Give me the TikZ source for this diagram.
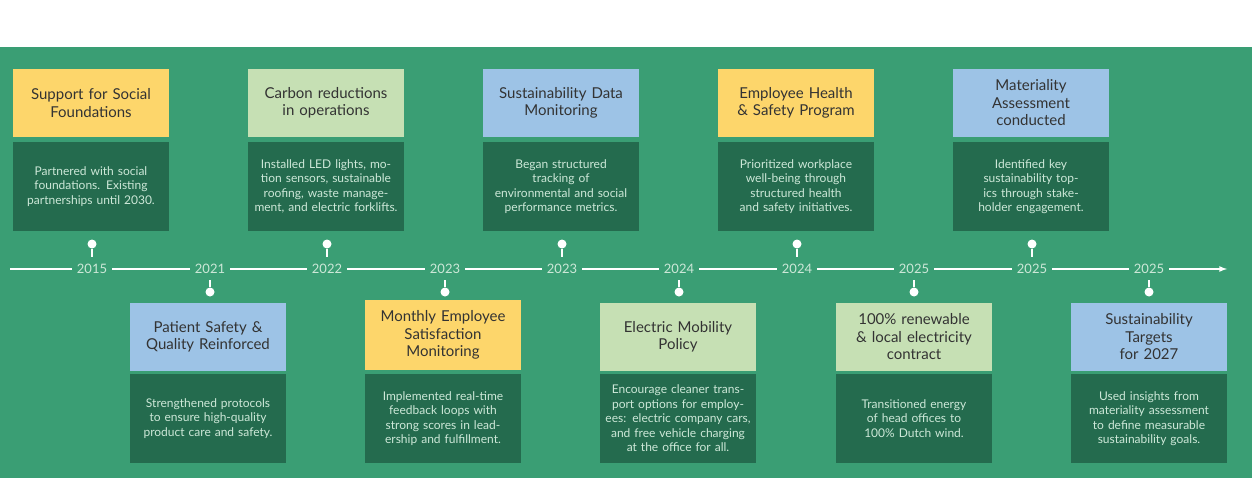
\documentclass[tikz,border=0pt]{standalone}
\usepackage{fontspec}
\setmainfont{Lato}
\usetikzlibrary{positioning}
\definecolor{bandgreen}{HTML}{3A9E74}
\definecolor{darkgreen}{HTML}{246B4E}
\definecolor{hyellow}{HTML}{FDD66B}
\definecolor{hlgreen}{HTML}{C6E0B4}
\definecolor{hblue}{HTML}{9DC3E6}
\definecolor{yeartext}{HTML}{CDE8D8}
\tikzset{
  head/.style={minimum width=156pt, minimum height=68pt, text width=146pt, align=center,
    inner sep=0pt, text=black!80, font=\fontsize{15}{17.5}\selectfont},
  body/.style={fill=darkgreen, minimum width=156pt, minimum height=89pt, text width=146pt,
    align=center, inner sep=0pt, text=yeartext, font=\fontsize{12}{14.5}\selectfont},
  year/.style={fill=bandgreen, inner xsep=5pt, inner ysep=1pt, text=yeartext,
    font=\fontsize{13}{15}\selectfont},
  pin/.style={circle, fill=white, inner sep=0pt, minimum size=9pt}
}
\begin{document}
\begin{tikzpicture}[x=1pt,y=-1pt]
\useasboundingbox (0,0) rectangle (1252,482);
\fill[bandgreen] (0,47) rectangle (1252,478);
% timeline
\draw[white, line width=1.6pt, -latex] (10,269) -- (1227,269);
% upper cards
\node[head, fill=hyellow] (h1) at (91,103) {Support for Social\\Foundations};
\node[body] (b1) at (91,186.5) {Partnered with social foundations. Existing partnerships until 2030.};
\node[head, fill=hlgreen] (h3) at (326,103) {Carbon reductions\\in operations};
\node[body] (b3) at (326,186.5) {Installed LED lights, motion sensors, sustainable roofing, waste management, and electric forklifts.};
\node[head, fill=hblue] (h5) at (561,103) {Sustainability Data\\Monitoring};
\node[body] (b5) at (561,186.5) {Began structured\\tracking of\\environmental and social performance metrics.};
\node[head, fill=hyellow] (h7) at (796,103) {Employee Health\\\& Safety Program};
\node[body] (b7) at (796,186.5) {Prioritized workplace well-being through structured health and safety initiatives.};
\node[head, fill=hblue] (h9) at (1031,103) {Materiality\\Assessment\\conducted};
\node[body] (b9) at (1031,186.5) {Identified key\\sustainability topics through stakeholder engagement.};
% lower cards
\node[head, fill=hblue] (h2) at (208,337) {Patient Safety \&\\Quality Reinforced};
\node[body] (b2) at (208,418.5) {Strengthened protocols to ensure high-quality product care and safety.};
\node[head, fill=hyellow, minimum height=70pt] (h4) at (443,335) {Monthly Employee\\Satisfaction\\Monitoring};
\node[body] (b4) at (443,418.5) {Implemented real-time feedback loops with strong scores in leadership and fulfillment.};
\node[head, fill=hlgreen] (h6) at (678,337) {Electric Mobility\\Policy};
\node[body] (b6) at (678,418.5) {Encourage cleaner transport options for employees: electric company cars, and free vehicle charging at the office for all.};
\node[head, fill=hlgreen] (h8) at (914,337) {100\% renewable\\\& local electricity\\contract};
\node[body] (b8) at (914,418.5) {Transitioned energy of head offices to 100\% Dutch wind.};
\node[head, fill=hblue] (h10) at (1149,337) {Sustainability\\Targets\\for 2027};
\node[body] (b10) at (1149,418.5) {Used insights from materiality assessment to define measurable sustainability goals.};
% years and pins
\foreach \i/\x/\yr in {1/92/2015,3/327/2022,5/562/2023,7/797/2024,9/1032/2025}{
  \node[year] (y\i) at (\x,269) {\yr};
  \node[pin] (p\i) at (\x,244) {};
  \draw[white, line width=2pt] (p\i) -- (\x,257);
}
\foreach \i/\x/\yr in {2/210/2021,4/445/2023,6/679/2024,8/914/2025,10/1149/2025}{
  \node[year] (y\i) at (\x,269) {\yr};
  \node[pin] (p\i) at (\x,292) {};
  \draw[white, line width=2pt] (p\i) -- (\x,280);
}
\end{tikzpicture}
\end{document}
